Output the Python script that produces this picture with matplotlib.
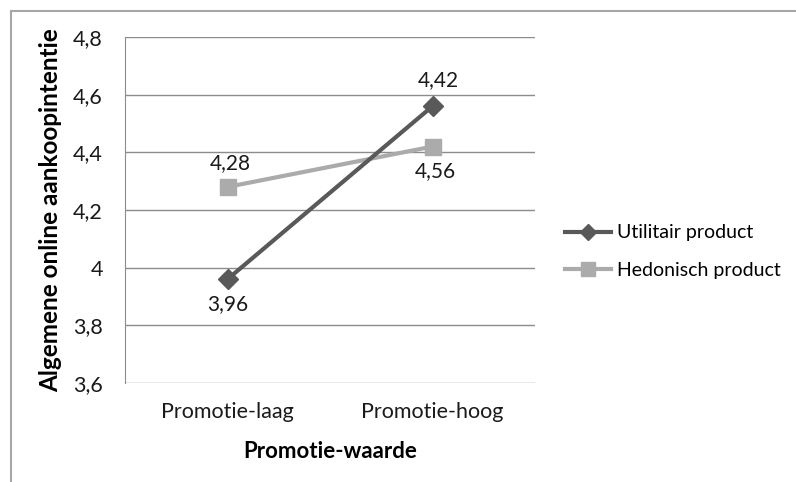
import matplotlib.pyplot as plt
from matplotlib.patches import Rectangle

plt.rcParams['font.family'] = ['Lato', 'DejaVu Sans']

# gemiddelde aankoopintentie per promotie-niveau
categories = ['Promotie-laag', 'Promotie-hoog']
utilitair = [3.96, 4.56]
hedonisch = [4.28, 4.42]
yticks = [3.6, 3.8, 4.0, 4.2, 4.4, 4.6, 4.8]

fig = plt.figure(figsize=(7.96, 4.82), dpi=100)
ax = fig.add_axes([125 / 796, 1 - 383 / 482, 410 / 796, 346 / 482])

# grijze rand rond het diagram
fig.patches.append(Rectangle((11 / 796, -0.1), 1.2, 1 - 11 / 482 + 0.1,
                             transform=fig.transFigure, fill=False,
                             edgecolor='#a6a6a6', linewidth=1.5))

x = [0, 1]
ax.plot(x, utilitair, color='#595959', linewidth=3, marker='D',
        markersize=10, label='Utilitair product', zorder=4)
ax.plot(x, hedonisch, color='#ababab', linewidth=3, marker='s',
        markersize=12, label='Hedonisch product', zorder=3)

def fmt(v):
    return f'{v:.2f}'.replace('.', ',')

kw = dict(textcoords='offset points', ha='center', va='center',
          fontsize=15, color='#1a1a1a')
ax.annotate(fmt(hedonisch[0]), (x[0], hedonisch[0]), xytext=(2, 17), **kw)
ax.annotate(fmt(utilitair[0]), (x[0], utilitair[0]), xytext=(0, -18), **kw)
ax.annotate(fmt(hedonisch[1]), (x[1], utilitair[1]), xytext=(4, 19), **kw)
ax.annotate(fmt(utilitair[1]), (x[1], hedonisch[1]), xytext=(2, -18), **kw)

ax.set_xlim(-0.5, 1.5)
ax.set_ylim(3.6, 4.8)
ax.set_yticks(yticks)
ax.set_yticklabels([f'{v:g}'.replace('.', ',') for v in yticks])
ax.set_xticks(x)
ax.set_xticklabels(categories)
ax.tick_params(axis='both', length=0, labelsize=15.5, colors='#1a1a1a')
ax.tick_params(axis='y', pad=16)
ax.tick_params(axis='x', pad=14)

ax.grid(axis='y', color='#8c8c8c', linewidth=1)
ax.set_axisbelow(True)
for s in ['top', 'right', 'bottom']:
    ax.spines[s].set_visible(False)
ax.spines['left'].set_color('#8c8c8c')

ax.set_xlabel('Promotie-waarde', fontsize=16, fontweight='bold', labelpad=13)
ax.set_ylabel('Algemene online aankoopintentie', fontsize=17.5,
              fontweight='bold', labelpad=8)

ax.legend(loc='center left', bbox_to_anchor=(1.03, 0.38), frameon=False,
          fontsize=14, handlelength=2.4, labelspacing=1.05, handletextpad=0.3,
          markerscale=0.85)

fig.savefig('out.png', dpi=100)
